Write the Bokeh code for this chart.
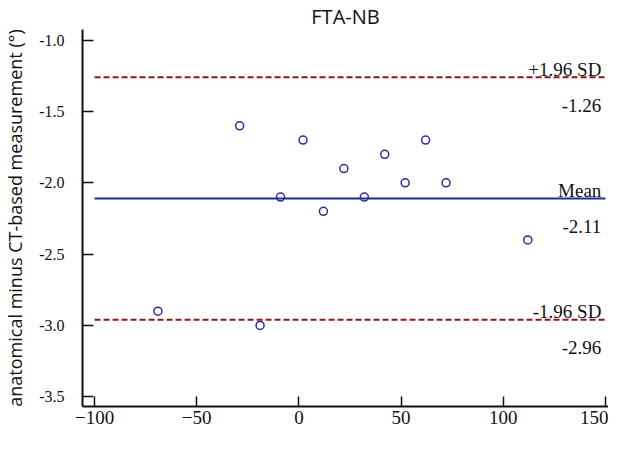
from bokeh.plotting import figure
from bokeh.models import FixedTicker, PrintfTickFormatter, Range1d, ColumnDataSource
from bokeh.core.properties import value
from bokeh.embed import file_html
from bokeh.resources import INLINE

# ---- data ----
x_vals = [-69, -19, -29, 2, -9, 12, 22, 32, 42, 52, 62, 72, 112]
y_vals = [-2.9, -3.0, -1.6, -1.7, -2.1, -2.2, -1.9, -2.1, -1.8, -2.0, -1.7, -2.0, -2.4]
mean_diff = -2.11
upper_loa = -1.26
lower_loa = -2.96
line_x = [-100, 150]
x_ticks = [-100, -50, 0, 50, 100, 150]
y_ticks = [-3.5, -3.0, -2.5, -2.0, -1.5, -1.0]
label_x = 148
title_text = "FTA-NB"
y_label = "anatomical minus CT-based measurement (°)"

serif = "Liberation Serif"
sans = "Open Sans"

x_lo, x_hi = -105.9, 151.5
y_lo, y_hi = -3.568, -0.925

p = figure(width=608, height=432, output_backend="svg", toolbar_location=None,
           x_range=Range1d(x_lo, x_hi), y_range=Range1d(y_lo, y_hi),
           min_border_left=75, min_border_right=0, min_border_top=24, min_border_bottom=26)
p.title.text = title_text
p.title.align = "center"
p.title.text_font = sans
p.title.text_font_size = "20px"
p.title.text_font_style = "normal"
p.title.text_color = "#111111"
p.title.standoff = 0
p.title.offset = 0

p.outline_line_color = None
p.grid.grid_line_color = None
p.background_fill_color = "white"
p.border_fill_color = "white"

p.xaxis.axis_line_color = "#111111"
p.yaxis.axis_line_color = "#111111"
p.xaxis.axis_line_width = 2
p.yaxis.axis_line_width = 2
p.xaxis.major_tick_line_color = "#111111"
p.yaxis.major_tick_line_color = "#111111"
p.xaxis.major_tick_line_width = 1.5
p.yaxis.major_tick_line_width = 1.5
p.xaxis.major_tick_out = 0
p.yaxis.major_tick_out = 0
p.xaxis.minor_tick_line_color = None
p.yaxis.minor_tick_line_color = None
p.xaxis.major_label_text_font = serif
p.yaxis.major_label_text_font = serif
p.xaxis.major_label_text_color = "#111111"
p.yaxis.major_label_text_color = "#111111"

p.xaxis.ticker = FixedTicker(ticks=x_ticks)
p.xaxis.major_tick_in = 10
p.xaxis.major_label_text_font_size = "19px"
p.xaxis.major_label_text_line_height = 1.0
p.xaxis.major_label_standoff = 4
p.xaxis.axis_label_standoff = 0

p.yaxis.ticker = FixedTicker(ticks=y_ticks)
p.yaxis.formatter = PrintfTickFormatter(format="%.1f")
p.yaxis.major_tick_in = 11
p.yaxis.major_label_text_font_size = "16px"
p.yaxis.major_label_standoff = 18
p.yaxis.axis_label = y_label
p.yaxis.axis_label_text_font = sans
p.yaxis.axis_label_text_font_size = "18px"
p.yaxis.axis_label_text_font_style = "normal"
p.yaxis.axis_label_text_color = "#111111"
p.yaxis.axis_label_standoff = 9

red = "#8B1A1A"
blue = "#1F2A9C"

p.line(line_x, [upper_loa, upper_loa], line_color=red, line_width=2, line_dash="6 3")
p.line(line_x, [lower_loa, lower_loa], line_color=red, line_width=2, line_dash="6 3")
p.line(line_x, [mean_diff, mean_diff], line_color=blue, line_width=2)

p.scatter(x_vals, y_vals, marker="circle", size=8, fill_color=None,
          line_color="#2B2B9A", line_width=1.5)

labels_above = ["+1.96 SD", "Mean", "-1.96 SD"]
labels_below = ["%.2f" % upper_loa, "%.2f" % mean_diff, "%.2f" % lower_loa]
levels = [upper_loa, mean_diff, lower_loa]
src = ColumnDataSource(dict(x=[label_x] * 3, y=levels, a=labels_above, b=labels_below))
p.text(x="x", y="y", text="a", source=src, text_align="right", text_baseline="alphabetic",
       y_offset=-8, text_font=value(serif), text_font_size="19px", text_color="#111111")
p.text(x="x", y="y", text="b", source=src, text_align="right", text_baseline="alphabetic",
       y_offset=28, text_font=value(serif), text_font_size="19px", text_color="#111111")

open("out.html", "w").write(file_html(p, INLINE))
